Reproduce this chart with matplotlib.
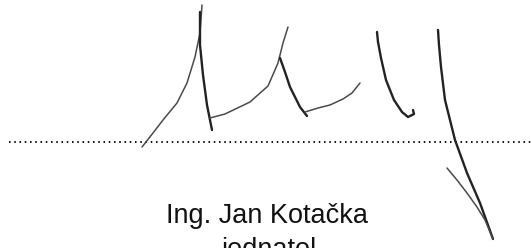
import matplotlib
matplotlib.use("Agg")
import matplotlib.pyplot as plt

# Signature strokes (pixel coordinates)
stroke_up1_x = [142, 153, 163, 177, 187, 195, 200, 202]
stroke_up1_y = [147, 133, 120, 103, 83, 57, 33, 5]
stroke_dn1_x = [200, 200, 203, 207, 210, 212]
stroke_dn1_y = [12, 45, 75, 105, 120, 130]
stroke_up2_x = [210, 225, 250, 268, 278, 283, 288]
stroke_up2_y = [118, 114, 102, 86, 63, 43, 27]
stroke_dn2_x = [280, 285, 290, 300, 307]
stroke_dn2_y = [58, 72, 87, 107, 116]
stroke_tail2_x = [305, 318, 330, 343, 352, 360]
stroke_tail2_y = [112, 108, 105, 99, 93, 83]
stroke_u_x = [377, 378, 381, 386, 394, 402, 408, 414, 413]
stroke_u_y = [32, 42, 58, 80, 100, 112, 117, 114, 110]
stroke_y1_x = [438, 439, 441, 445, 455, 467, 480, 493]
stroke_y1_y = [30, 45, 67, 100, 140, 173, 203, 239]
stroke_y2_x = [447, 457, 467, 477, 485, 493]
stroke_y2_y = [168, 180, 193, 207, 220, 239]

name_text = "Ing. Jan Kotačka"
role_text = "jednatel"

fig = plt.figure(figsize=(5.31, 2.48), dpi=100)
ax = fig.add_axes([0, 0, 1, 1])
ax.set_xlim(0, 531)
ax.set_ylim(248, 0)
ax.axis("off")

# dotted signature line
ax.plot([9, 531], [142, 142], color="#111111", lw=1.4, ls=(0, (0.8, 1.9)))

thin = dict(color="#4a4a4a", lw=1.1, solid_capstyle="round")
thick = dict(color="#222222", lw=1.7, solid_capstyle="round")
ax.plot(stroke_up1_x, stroke_up1_y, **thin)
ax.plot(stroke_dn1_x, stroke_dn1_y, **thick)
ax.plot(stroke_up2_x, stroke_up2_y, **thin)
ax.plot(stroke_dn2_x, stroke_dn2_y, **thick)
ax.plot(stroke_tail2_x, stroke_tail2_y, **thin)
ax.plot(stroke_u_x, stroke_u_y, **thick)
ax.plot(stroke_y1_x, stroke_y1_y, **thick)
ax.plot(stroke_y2_x, stroke_y2_y, **thin)

ax.text(267, 223, name_text, ha="center", va="baseline", fontsize=19.5,
        family="Liberation Sans", color="#111111")
ax.text(269, 257, role_text, ha="center", va="baseline", fontsize=19.5,
        family="Liberation Sans", color="#111111")

fig.savefig("out.png", dpi=100, facecolor="white")
